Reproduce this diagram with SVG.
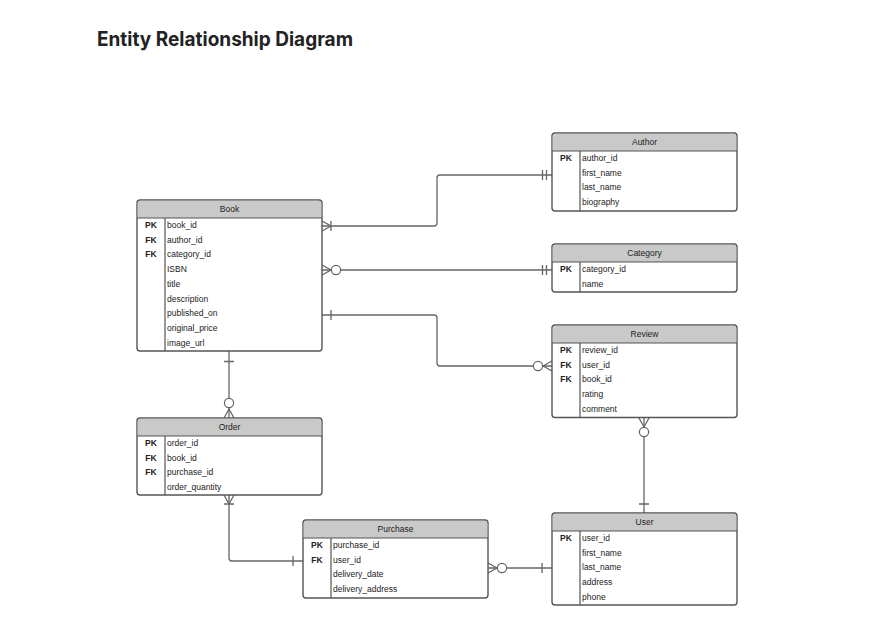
<svg xmlns="http://www.w3.org/2000/svg" width="874" height="637" viewBox="0 0 874 637">
<style>
.t{font-family:"Liberation Sans",Arial,sans-serif;font-size:8.5px;fill:#222}
.h{text-anchor:middle}
.k{font-weight:bold;text-anchor:middle}
.box{fill:#fff;stroke:#555;stroke-width:1.4}
.hd{fill:#c9c9c9}
.ln{stroke:#555;stroke-width:1.2;fill:none}
.c{stroke:#666;stroke-width:1.3;fill:none}
.o{stroke:#666;stroke-width:1.2;fill:#fff}
.title{font-family:Inter,"Liberation Sans",sans-serif;font-weight:700;font-size:20px;fill:#222}
</style>
<rect width="874" height="637" fill="#fff"/>
<text class="title" x="97" y="46" textLength="256" lengthAdjust="spacingAndGlyphs">Entity Relationship Diagram</text>

<g id="connectors">
  <!-- Book - Author -->
  <path class="c" d="M322,226 H434 Q437,226 437,223 V178 Q437,175 440,175 H552"/>
  <path class="c" d="M322,221 L331,226 L322,231 M331,221 V231 M542.5,170 V180 M546.5,170 V180"/>
  <!-- Book - Category -->
  <path class="c" d="M322,270 H552"/>
  <path class="c" d="M322,265 L331,270 L322,275 M542.5,265 V275 M546.5,265 V275"/>
  <circle class="o" cx="336" cy="270" r="4.6"/>
  <!-- Book - Review -->
  <path class="c" d="M322,315 H434 Q437,315 437,318 V363 Q437,366 440,366 H552"/>
  <path class="c" d="M331,310 V320 M552,361 L543,366 L552,371"/>
  <circle class="o" cx="538" cy="366" r="4.6"/>
  <!-- Book - Order -->
  <path class="c" d="M229,351 V418"/>
  <path class="c" d="M224,361.5 H234 M224,418 L229,409 L234,418"/>
  <circle class="o" cx="229" cy="403" r="4.6"/>
  <!-- Order - Purchase -->
  <path class="c" d="M229,495 V558 Q229,561 232,561 H303"/>
  <path class="c" d="M224,495 L229,504 L234,495 M224,504 H234 M293,556 V566"/>
  <!-- Purchase - User -->
  <path class="c" d="M488,568 H552"/>
  <path class="c" d="M488,563 L497,568 L488,573 M542,563 V573"/>
  <circle class="o" cx="502" cy="568" r="4.6"/>
  <!-- Review - User -->
  <path class="c" d="M644,418 V513"/>
  <path class="c" d="M639,418 L644,427 L649,418 M639,504 H649"/>
  <circle class="o" cx="644" cy="432" r="4.6"/>
</g>

<g id="book">
  <rect class="box" x="137" y="200" width="185" height="151" rx="3"/>
  <path class="hd" d="M137.7,218 V203 Q137.7,200.7 140,200.7 H319 Q321.3,200.7 321.3,203 V218 Z"/>
  <path class="ln" d="M137,218 H322 M165,218 V351"/>
  <text class="t h" x="229.5" y="212">Book</text>
  <text class="t k" x="151" y="228">PK</text>
  <text class="t k" x="151" y="242.7">FK</text>
  <text class="t k" x="151" y="257.4">FK</text>
  <text class="t" x="167" y="228">book_id</text>
  <text class="t" x="167" y="242.7">author_id</text>
  <text class="t" x="167" y="257.4">category_id</text>
  <text class="t" x="167" y="272.1">ISBN</text>
  <text class="t" x="167" y="286.8">title</text>
  <text class="t" x="167" y="301.5">description</text>
  <text class="t" x="167" y="316.2">published_on</text>
  <text class="t" x="167" y="330.9">original_price</text>
  <text class="t" x="167" y="345.6">image_url</text>
</g>

<g id="author">
  <rect class="box" x="552" y="133" width="185" height="78" rx="3"/>
  <path class="hd" d="M552.7,151 V136 Q552.7,133.7 555,133.7 H734 Q736.3,133.7 736.3,136 V151 Z"/>
  <path class="ln" d="M552,151 H737 M580,151 V211"/>
  <text class="t h" x="644.5" y="145">Author</text>
  <text class="t k" x="566" y="161">PK</text>
  <text class="t" x="582" y="161">author_id</text>
  <text class="t" x="582" y="175.7">first_name</text>
  <text class="t" x="582" y="190.4">last_name</text>
  <text class="t" x="582" y="205.1">biography</text>
</g>

<g id="category">
  <rect class="box" x="552" y="244" width="185" height="48" rx="3"/>
  <path class="hd" d="M552.7,262 V247 Q552.7,244.7 555,244.7 H734 Q736.3,244.7 736.3,247 V262 Z"/>
  <path class="ln" d="M552,262 H737 M580,262 V292"/>
  <text class="t h" x="644.5" y="256">Category</text>
  <text class="t k" x="566" y="272">PK</text>
  <text class="t" x="582" y="272">category_id</text>
  <text class="t" x="582" y="286.7">name</text>
</g>

<g id="review">
  <rect class="box" x="552" y="325" width="185" height="92.5" rx="3"/>
  <path class="hd" d="M552.7,343 V328 Q552.7,325.7 555,325.7 H734 Q736.3,325.7 736.3,328 V343 Z"/>
  <path class="ln" d="M552,343 H737 M580,343 V417.5"/>
  <text class="t h" x="644.5" y="337">Review</text>
  <text class="t k" x="566" y="353">PK</text>
  <text class="t k" x="566" y="367.7">FK</text>
  <text class="t k" x="566" y="382.4">FK</text>
  <text class="t" x="582" y="353">review_id</text>
  <text class="t" x="582" y="367.7">user_id</text>
  <text class="t" x="582" y="382.4">book_id</text>
  <text class="t" x="582" y="397.1">rating</text>
  <text class="t" x="582" y="411.8">comment</text>
</g>

<g id="order">
  <rect class="box" x="137" y="418" width="185" height="77" rx="3"/>
  <path class="hd" d="M137.7,436 V421 Q137.7,418.7 140,418.7 H319 Q321.3,418.7 321.3,421 V436 Z"/>
  <path class="ln" d="M137,436 H322 M165,436 V495"/>
  <text class="t h" x="229.5" y="430">Order</text>
  <text class="t k" x="151" y="446">PK</text>
  <text class="t k" x="151" y="460.7">FK</text>
  <text class="t k" x="151" y="475.4">FK</text>
  <text class="t" x="167" y="446">order_id</text>
  <text class="t" x="167" y="460.7">book_id</text>
  <text class="t" x="167" y="475.4">purchase_id</text>
  <text class="t" x="167" y="490.1">order_quantity</text>
</g>

<g id="purchase">
  <rect class="box" x="303" y="520" width="185" height="78" rx="3"/>
  <path class="hd" d="M303.7,538 V523 Q303.7,520.7 306,520.7 H485 Q487.3,520.7 487.3,523 V538 Z"/>
  <path class="ln" d="M303,538 H488 M331,538 V598"/>
  <text class="t h" x="395.5" y="532">Purchase</text>
  <text class="t k" x="317" y="548">PK</text>
  <text class="t k" x="317" y="562.7">FK</text>
  <text class="t" x="333" y="548">purchase_id</text>
  <text class="t" x="333" y="562.7">user_id</text>
  <text class="t" x="333" y="577.4">delivery_date</text>
  <text class="t" x="333" y="592.1">delivery_address</text>
</g>

<g id="user">
  <rect class="box" x="552" y="513" width="185" height="92" rx="3"/>
  <path class="hd" d="M552.7,531 V516 Q552.7,513.7 555,513.7 H734 Q736.3,513.7 736.3,516 V531 Z"/>
  <path class="ln" d="M552,531 H737 M580,531 V605"/>
  <text class="t h" x="644.5" y="525">User</text>
  <text class="t k" x="566" y="541">PK</text>
  <text class="t" x="582" y="541">user_id</text>
  <text class="t" x="582" y="555.7">first_name</text>
  <text class="t" x="582" y="570.4">last_name</text>
  <text class="t" x="582" y="585.1">address</text>
  <text class="t" x="582" y="599.8">phone</text>
</g>
</svg>
